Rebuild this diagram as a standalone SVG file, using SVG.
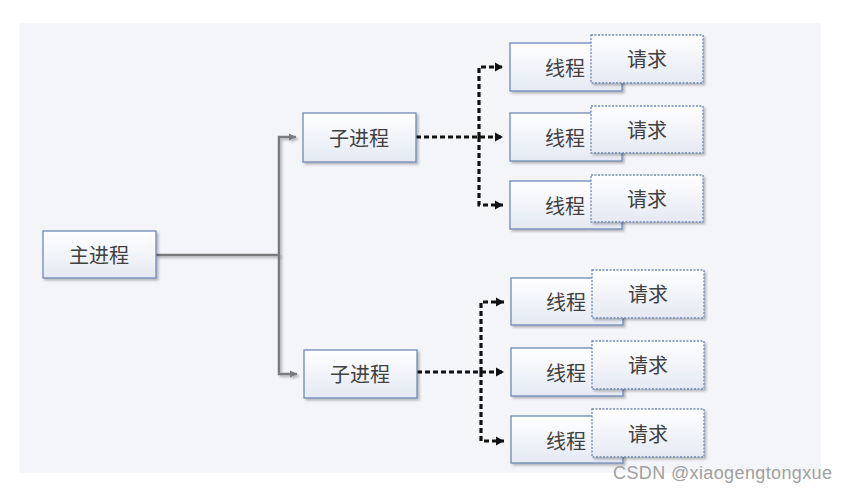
<svg xmlns="http://www.w3.org/2000/svg" width="846" height="493" viewBox="0 0 846 493">
<defs>
<linearGradient id="g" x1="0" y1="0" x2="0" y2="1">
<stop offset="0" stop-color="#ffffff"/>
<stop offset="1" stop-color="#e4e9f3"/>
</linearGradient>
<marker id="ag" markerWidth="8" markerHeight="8" refX="7" refY="4" orient="auto" markerUnits="userSpaceOnUse">
<path d="M0,0.5 L7,4 L0,7.5 Z" fill="#7a7a7a"/>
</marker>
<marker id="ab" markerWidth="9" markerHeight="10" refX="8" refY="5" orient="auto" markerUnits="userSpaceOnUse">
<path d="M0,0.5 L8,5 L0,9.5 Z" fill="#111"/>
</marker>
<filter id="sh" x="-10%" y="-10%" width="130%" height="140%">
<feDropShadow dx="2" dy="2" stdDeviation="1.2" flood-color="#000" flood-opacity="0.25"/>
</filter>
</defs>
<style>
.box{fill:url(#g);stroke:#6f89b3;stroke-width:1.3;filter:url(#sh)}
.req{fill:url(#g);stroke:#6f89b3;stroke-width:1.3;stroke-dasharray:2 1.5;filter:url(#sh)}
.t{font-family:"Noto Sans CJK SC",sans-serif;font-size:20px;fill:#404040;text-anchor:middle;dominant-baseline:central}
.solid{fill:none;stroke:#7a7a7a;stroke-width:2.5;filter:url(#sh)}
.dash{fill:none;stroke:#111;stroke-width:3.2;stroke-dasharray:5 3}
</style>
<rect x="19" y="23" width="802" height="450" fill="#f4f5f9"/>
<g id="connectors">
<path class="solid" d="M156,255 H279 V137 H296" marker-end="url(#ag)"/>
<path class="solid" d="M279,255 V374 H297" marker-end="url(#ag)"/>
<path class="dash" d="M416,137 H503" marker-end="url(#ab)"/>
<path class="dash" d="M479,137 V67 H503" marker-end="url(#ab)"/>
<path class="dash" d="M479,137 V205 H503" marker-end="url(#ab)"/>
<path class="dash" d="M417,372 H504" marker-end="url(#ab)"/>
<path class="dash" d="M481,372 V302 H504" marker-end="url(#ab)"/>
<path class="dash" d="M481,372 V441 H504" marker-end="url(#ab)"/>
</g>
<g id="main"><rect class="box" x="43" y="231" width="113" height="47"/><text class="t" x="99" y="254">主进程</text></g>
<g id="sub1"><rect class="box" x="303" y="113" width="113" height="49"/><text class="t" x="359" y="137">子进程</text></g>
<g id="sub2"><rect class="box" x="304" y="350" width="113" height="48"/><text class="t" x="360" y="373">子进程</text></g>
<g id="thread1"><rect class="box" x="510" y="43" width="112" height="48"/><text class="t" x="565" y="67">线程</text></g>
<g id="req1"><rect class="req" x="591" y="35" width="112" height="48"/><text class="t" x="647" y="58">请求</text></g>
<g id="thread2"><rect class="box" x="510" y="113" width="112" height="48"/><text class="t" x="565" y="137">线程</text></g>
<g id="req2"><rect class="req" x="591" y="106" width="112" height="47"/><text class="t" x="647" y="129">请求</text></g>
<g id="thread3"><rect class="box" x="510" y="181" width="112" height="48"/><text class="t" x="565" y="205">线程</text></g>
<g id="req3"><rect class="req" x="591" y="175" width="112" height="47"/><text class="t" x="647" y="198">请求</text></g>
<g id="thread4"><rect class="box" x="511" y="278" width="112" height="47"/><text class="t" x="566" y="301">线程</text></g>
<g id="req4"><rect class="req" x="592" y="270" width="112" height="48"/><text class="t" x="648" y="293">请求</text></g>
<g id="thread5"><rect class="box" x="511" y="348" width="112" height="48"/><text class="t" x="566" y="372">线程</text></g>
<g id="req5"><rect class="req" x="592" y="341" width="112" height="48"/><text class="t" x="648" y="364">请求</text></g>
<g id="thread6"><rect class="box" x="511" y="416" width="112" height="47"/><text class="t" x="566" y="440">线程</text></g>
<g id="req6"><rect class="req" x="592" y="409" width="112" height="48"/><text class="t" x="648" y="433">请求</text></g>
<text x="613" y="479" font-family="Liberation Sans, sans-serif" font-size="18" fill="#a0a0a0" textLength="219">CSDN @xiaogengtongxue</text>
</svg>
